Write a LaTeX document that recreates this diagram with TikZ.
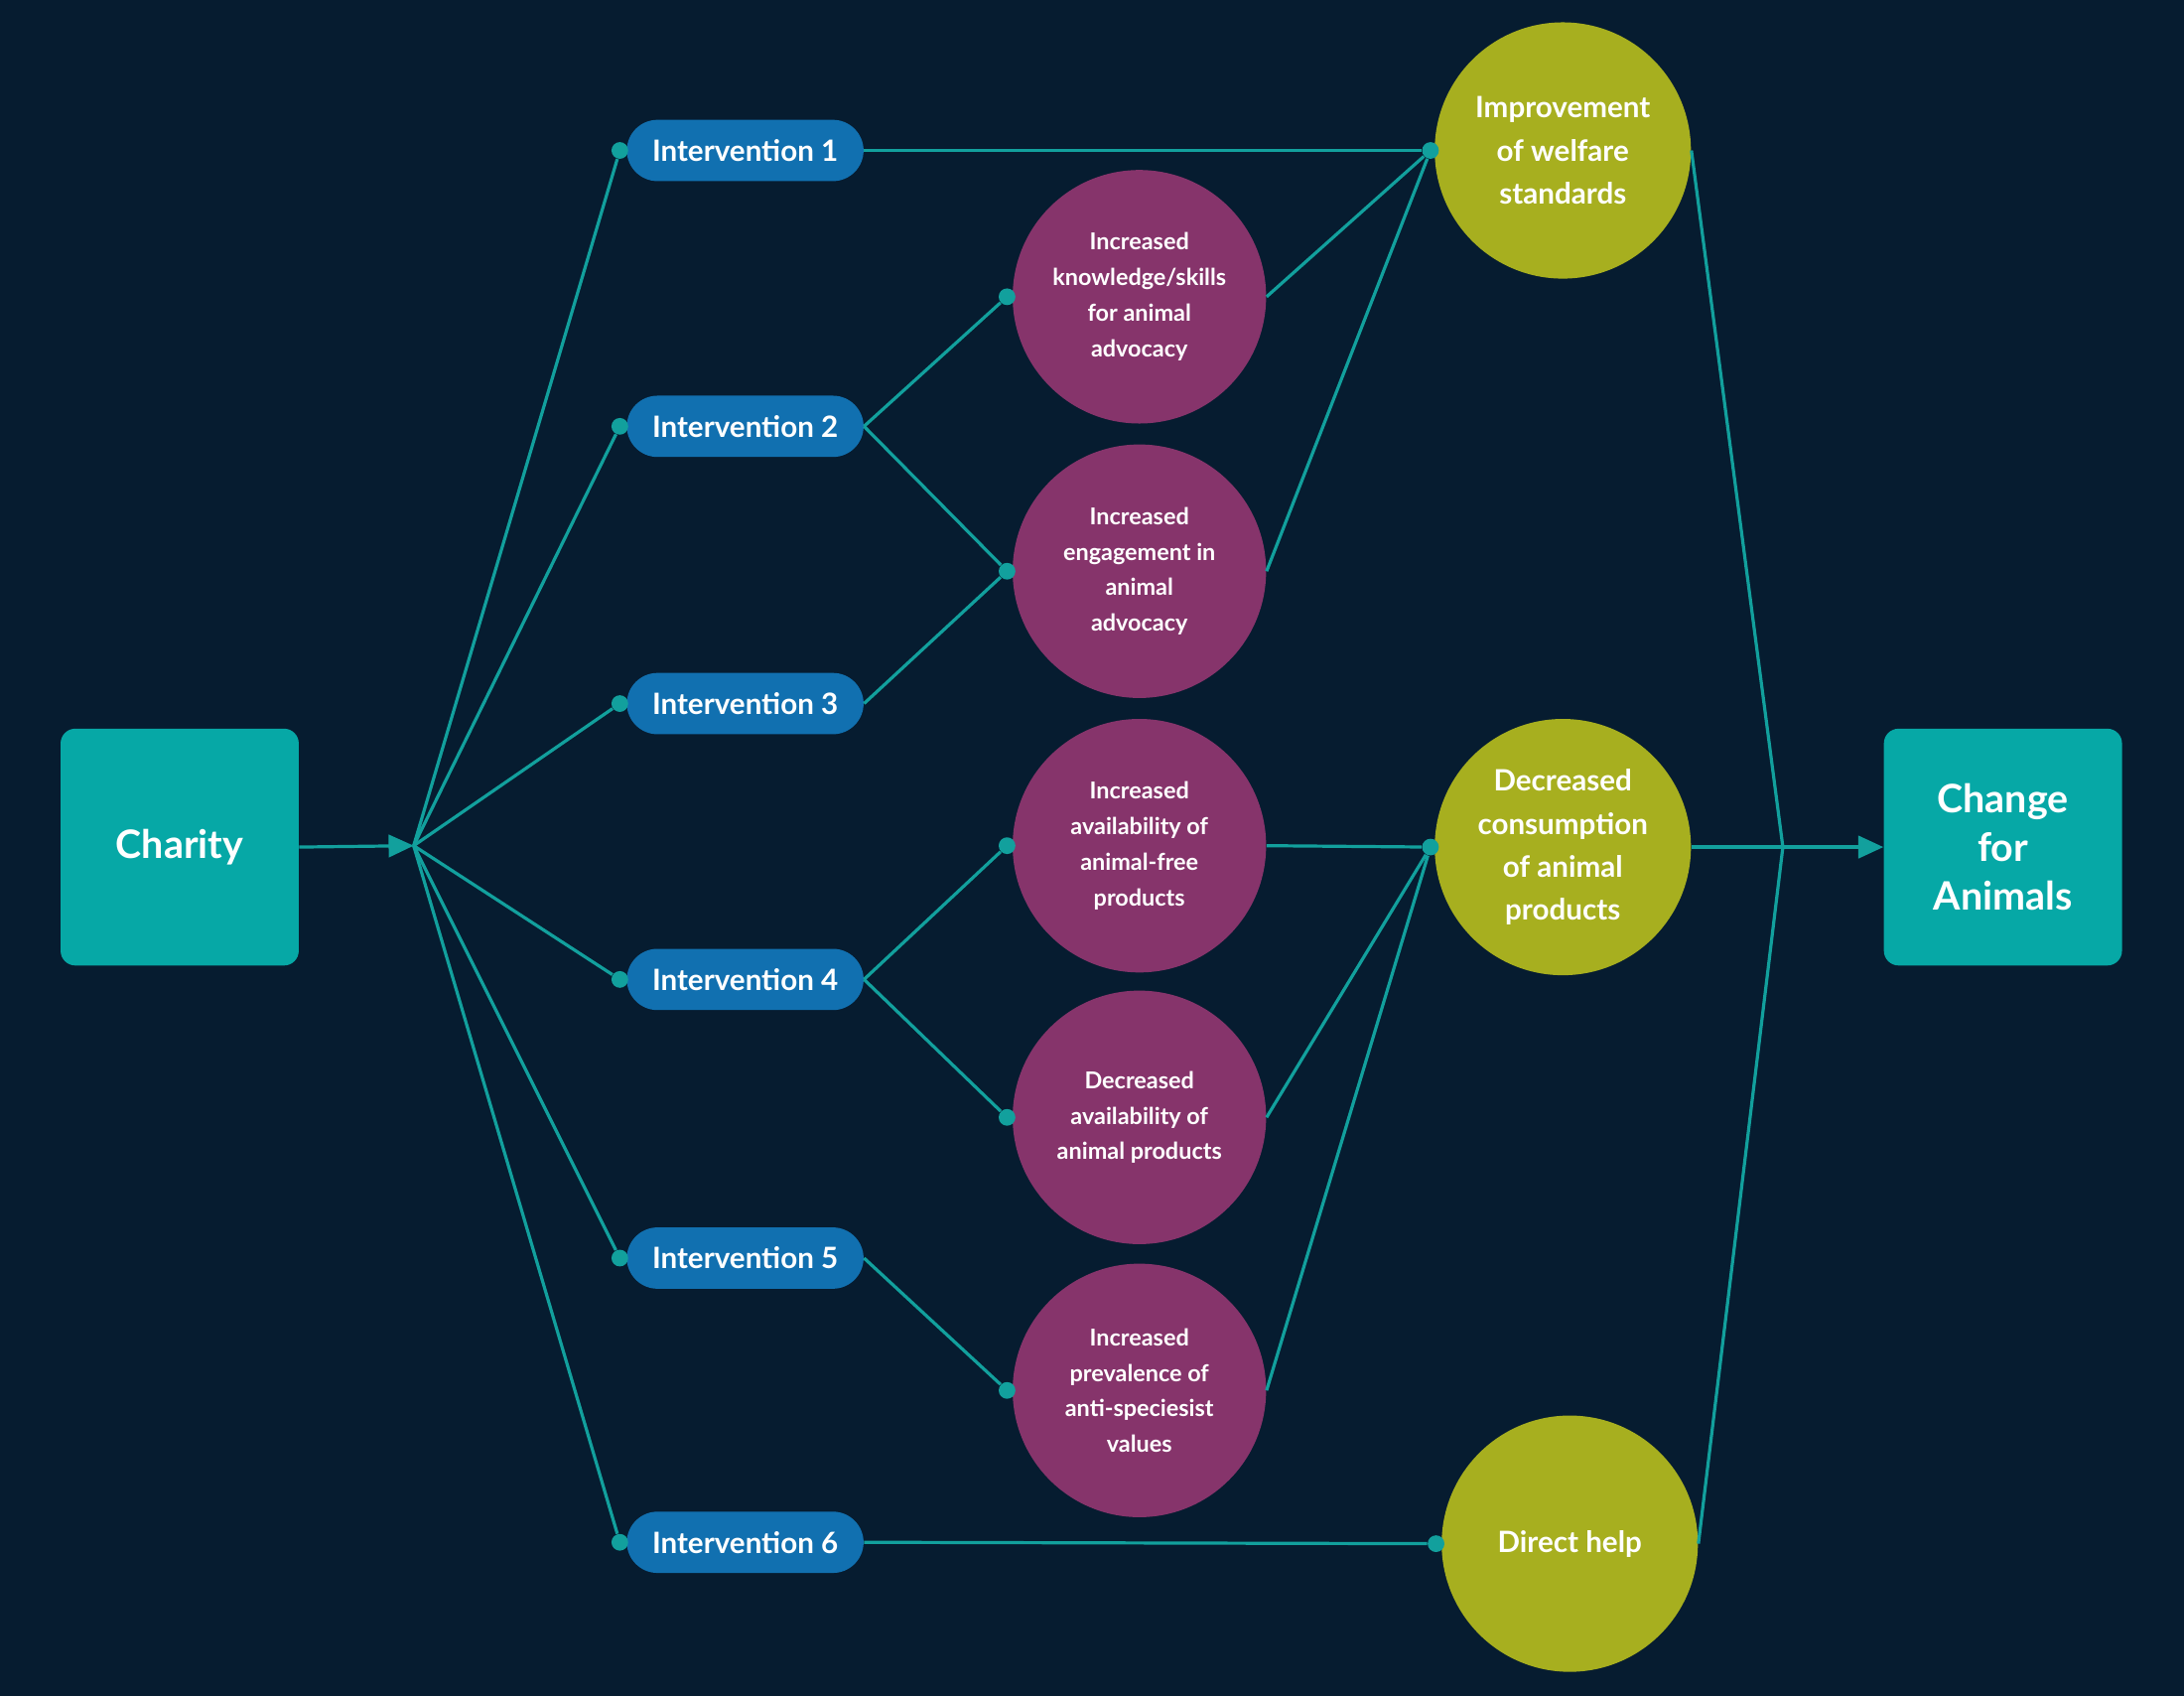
\documentclass[tikz,border=0pt]{standalone}
\usepackage{fontspec}
\setmainfont{Lato}
\usetikzlibrary{arrows.meta}
\definecolor{bg}{HTML}{061C30}
\definecolor{tealbox}{HTML}{06A8A6}
\definecolor{blu}{HTML}{1170B0}
\definecolor{purp}{HTML}{86346B}
\definecolor{yel}{HTML}{A7AF1F}
\definecolor{ln}{HTML}{12A09D}
\begin{document}
\begin{tikzpicture}[x=0.02cm,y=-0.02cm,
 box/.style={fill=tealbox,rounded corners=6pt,minimum width=3.42cm,minimum height=3.4cm,text=white,font=\fontsize{16}{20}\selectfont\bfseries,align=center},
 pill/.style={fill=blu,rounded corners=0.44cm,minimum width=3.4cm,minimum height=0.88cm,text=white,font=\fontsize{12}{14}\selectfont\bfseries,inner sep=0pt},
 pc/.style={circle,fill=purp,minimum size=3.64cm,text=white,align=center,font=\fontsize{9.5}{14.5}\selectfont\bfseries,inner sep=0pt},
 yc/.style={circle,fill=yel,minimum size=3.68cm,text=white,align=center,font=\fontsize{12}{17.5}\selectfont\bfseries,inner sep=0pt},
 dot/.style={circle,fill=ln,minimum size=0.24cm,inner sep=0pt},
 con/.style={draw=ln,line width=1.3pt},
 arr/.style={con,-{Triangle[length=0.36cm,width=0.32cm]}}]
\fill[bg] (0,0) rectangle (1568,1217);
\node[box] (ch) at (129,608) {Charity};
\node[box] (cfa) at (1438,608) {Change\\for\\Animals};
\coordinate (j1) at (297,607);
\coordinate (j2) at (1280,608);
\foreach \i/\y in {1/108,2/306,3/505,4/703,5/903,6/1107}{
 \node[pill] (i\i) at (535,\y) {Intervention \i};
 \node[dot] (di\i) at (445,\y) {};
}
\node[pc] (p1) at (818,213) {Increased\\knowledge/skills\\for animal\\advocacy};
\node[pc] (p2) at (818,410) {Increased\\engagement in\\animal\\advocacy};
\node[pc] (p3) at (818,607) {Increased\\availability of\\animal-free\\products};
\node[pc] (p4) at (818,802) {Decreased\\availability of\\animal products};
\node[pc] (p5) at (818,998) {Increased\\prevalence of\\anti-speciesist\\values};
\foreach \i/\y in {1/213,2/410,3/607,4/802,5/998}{\node[dot] (dp\i) at (723,\y) {};}
\node[yc] (y1) at (1122,108) {Improvement\\of welfare\\standards};
\node[yc] (y2) at (1122,608) {Decreased\\consumption\\of animal\\products};
\node[yc] (y3) at (1127,1108) {Direct help};
\node[dot] (dy1) at (1027,108) {};
\node[dot] (dy2) at (1027,608) {};
\node[dot] (dy3) at (1031,1108) {};
\draw[arr] (ch.east) -- (j1);
\draw[arr] (j2) -- (cfa.west);
\foreach \i in {1,...,6}{\draw[con] (j1) -- (di\i);}
\draw[con] (i1.east) -- (dy1);
\draw[con] (i2.east) -- (dp1);
\draw[con] (i2.east) -- (dp2);
\draw[con] (i3.east) -- (dp2);
\draw[con] (i4.east) -- (dp3);
\draw[con] (i4.east) -- (dp4);
\draw[con] (i5.east) -- (dp5);
\draw[con] (i6.east) -- (dy3);
\draw[con] (p1.east) -- (dy1);
\draw[con] (p2.east) -- (dy1);
\draw[con] (p3.east) -- (dy2);
\draw[con] (p4.east) -- (dy2);
\draw[con] (p5.east) -- (dy2);
\draw[con] (y1.east) -- (j2);
\draw[con] (y2.east) -- (j2);
\draw[con] (y3.east) -- (j2);
\end{tikzpicture}
\end{document}
